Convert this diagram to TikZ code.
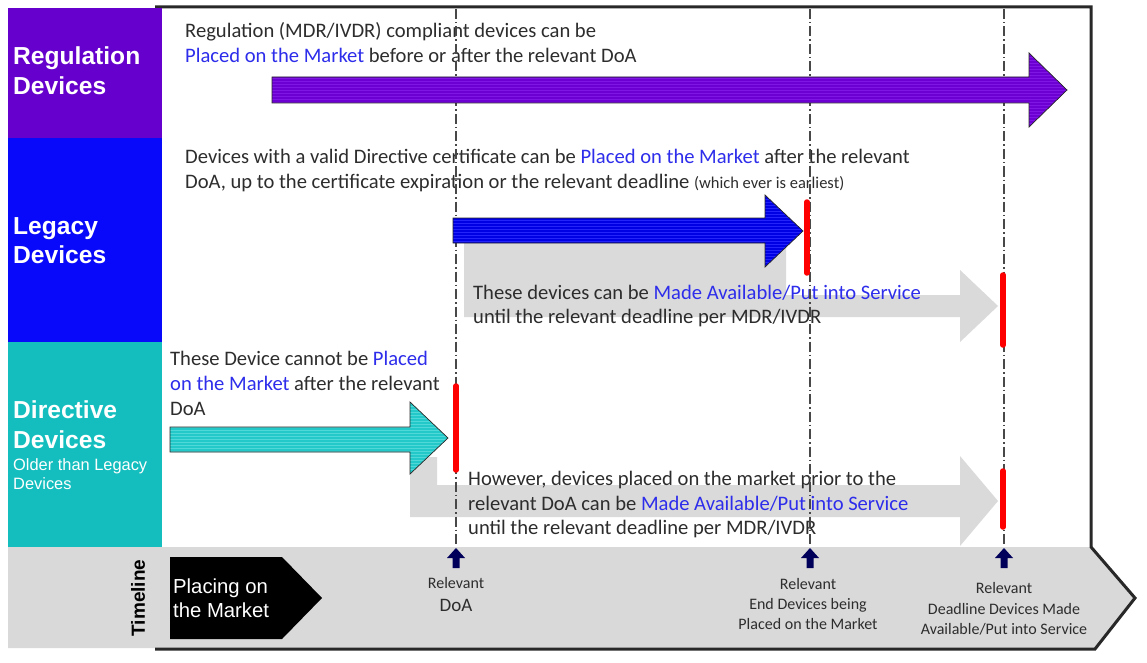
\documentclass[tikz,border=0pt]{standalone}
\usepackage{fontspec}
\setmainfont{Carlito}
\newfontfamily\arialf{Liberation Sans}
\definecolor{cpurple}{RGB}{102,0,204}
\definecolor{cblue}{RGB}{8,8,250}
\definecolor{cteal}{RGB}{20,190,190}
\definecolor{tgrey}{RGB}{217,217,217}
\definecolor{agrey}{RGB}{218,218,218}
\definecolor{tdark}{RGB}{45,45,45}
\definecolor{tblue}{RGB}{45,45,235}
\definecolor{apurple}{RGB}{108,0,210}
\definecolor{spurple}{RGB}{128,22,228}
\definecolor{ablue}{RGB}{0,0,228}
\definecolor{sblue}{RGB}{35,35,250}
\definecolor{ateal}{RGB}{35,200,200}
\definecolor{steal}{RGB}{80,215,215}
\definecolor{navy}{RGB}{0,0,90}
\definecolor{framec}{RGB}{40,40,40}
\tikzset{
  stripes/.style={path picture={
    \foreach \k in {1,4,...,82} {
      \draw[#1, line width=0.9pt] ([yshift=-\k pt]path picture bounding box.north west) -- ([yshift=-\k pt]path picture bounding box.north east);
    }}},
  blockarrow/.style={draw=framec, line width=0.7pt, line join=miter},
  sidebox/.style={anchor=north west, inner sep=0, minimum width=154pt},
  mt/.style={anchor=base west, inner sep=0, text=tdark, font=\fontsize{20.6}{25}\selectfont},
  lab/.style={anchor=base west, inner sep=0, text=white, font=\arialf\bfseries\fontsize{24.6}{30}\selectfont},
  slab/.style={anchor=base west, inner sep=0, text=white, font=\arialf\fontsize{16.4}{20}\selectfont},
  tl/.style={anchor=base, inner sep=0, text=tdark, font=\fontsize{16}{20}\selectfont},
  dashdot/.style={draw=framec!85, line width=1.1pt, dash pattern=on 10pt off 3pt on 1.5pt off 3pt},
  redbar/.style={draw=red, line width=5.5pt, line cap=round},
  uparrow/.style={fill=navy},
}
\begin{document}
\begin{tikzpicture}[x=1pt,y=-1pt]
\useasboundingbox (0,0) rectangle (1147,663);
\fill[white] (0,0) rectangle (1147,663);

% timeline band and frame
\fill[tgrey] (8,547) -- (1091,547) -- (1135,598) -- (1095,648) -- (8,648) -- cycle;
\draw[framec, line width=3pt, line join=miter] (155,7) -- (1091,7) -- (1091,547) -- (1135,598) -- (1095,649) -- (155,649);

% side boxes
\node[sidebox, fill=cpurple, minimum height=130pt] (reg) at (8,8) {};
\node[sidebox, fill=cblue, minimum height=204pt] (leg) at (8,138) {};
\node[sidebox, fill=cteal, minimum height=205pt] (dir) at (8,342) {};

\node[lab] (regl1) at (13,65) {Regulation};
\node[lab] (regl2) at (13,95) {Devices};
\node[lab] (legl1) at (13,234) {Legacy};
\node[lab] (legl2) at (13,263) {Devices};
\node[lab] (dirl1) at (13,418) {Directive};
\node[lab] (dirl2) at (13,448) {Devices};
\node[slab] (dirl3) at (13,470) {Older than Legacy};
\node[slab] (dirl4) at (13,489) {Devices};

% grey arrows
\fill[agrey] (464,243) -- (786,243) -- (786,295) -- (960,295) -- (960,270) -- (998,306) -- (960,342) -- (960,317) -- (464,317) -- cycle;
\fill[agrey] (410,457) -- (437,457) -- (437,485) -- (960,485) -- (960,456) -- (998,501) -- (960,546) -- (960,517) -- (410,517) -- cycle;

% texts
\node[mt] (t1a) at (185,38) {Regulation (MDR/IVDR) compliant devices can be};
\node[mt] (t1b) at (185,63) {\textcolor{tblue}{Placed on the Market} before or after the relevant DoA};
\node[mt] (t2a) at (185,164) {Devices with a valid Directive certificate can be \textcolor{tblue}{Placed on the Market} after the relevant};
\node[mt] (t2b) at (185,189) {DoA, up to the certificate expiration or the relevant deadline {\fontsize{16.5}{18}\selectfont (which ever is earliest)}};
\node[mt] (t3a) at (473,299) {These devices can be \textcolor{tblue}{Made Available/Put into Service}};
\node[mt] (t3b) at (473,323) {until the relevant deadline per MDR/IVDR};
\node[mt] (t4a) at (170,365) {These Device cannot be \textcolor{tblue}{Placed}};
\node[mt] (t4b) at (170,390) {\textcolor{tblue}{on the Market} after the relevant};
\node[mt] (t4c) at (170,415) {DoA};
\node[mt] (t5a) at (468,485) {However, devices placed on the market prior to the};
\node[mt] (t5b) at (468,510) {relevant DoA can be \textcolor{tblue}{Made Available/Put into Service}};
\node[mt] (t5c) at (468,534) {until the relevant deadline per MDR/IVDR};

% dash-dot date lines
\coordinate (d1t) at (456,9); \coordinate (d1b) at (456,547);
\coordinate (d2t) at (810,9); \coordinate (d2b) at (810,547);
\coordinate (d3t) at (1004,9); \coordinate (d3b) at (1004,547);
\draw[dashdot] (d1t) -- (d1b);
\draw[dashdot] (d2t) -- (d2b);
\draw[dashdot] (d3t) -- (d3b);

% coloured block arrows
\path[blockarrow, fill=apurple, stripes=spurple] (272,77) -- (1029,77) -- (1029,53) -- (1067,90) -- (1029,127) -- (1029,103) -- (272,103) -- cycle;
\path[blockarrow, fill=ablue, stripes=sblue] (453,218) -- (765,218) -- (765,195) -- (803,231) -- (765,267) -- (765,243) -- (453,243) -- cycle;
\path[blockarrow, fill=ateal, stripes=steal] (170,427) -- (410,427) -- (410,402) -- (448,438) -- (410,474) -- (410,452) -- (170,452) -- cycle;

% red deadline bars
\coordinate (r1t) at (807,202); \coordinate (r1b) at (807,273);
\coordinate (r2t) at (1003,275); \coordinate (r2b) at (1003,345);
\coordinate (r3t) at (456,386); \coordinate (r3b) at (456,470);
\coordinate (r4t) at (1003,471); \coordinate (r4b) at (1003,527);
\draw[redbar] (r1t) -- (r1b);
\draw[redbar] (r2t) -- (r2b);
\draw[redbar] (r3t) -- (r3b);
\draw[redbar] (r4t) -- (r4b);

% timeline
\node[anchor=center, inner sep=0, rotate=90, font=\arialf\bfseries\fontsize{19}{22}\selectfont, text=black] (tline) at (138,598) {Timeline};
\path[fill=black] (170,557) -- (282,557) -- (322,598) -- (282,639) -- (170,639) -- cycle;
\node[anchor=base west, inner sep=0, text=white, font=\arialf\fontsize{20.3}{24}\selectfont] (pom1) at (173,593) {Placing on};
\node[anchor=base west, inner sep=0, text=white, font=\arialf\fontsize{20.3}{24}\selectfont] (pom2) at (173,617) {the Market};

\foreach \ax in {456,810,1004} {
  \path[uparrow] (\ax,548) -- (\ax+9,558) -- (\ax+3.5,558) -- (\ax+3.5,568) -- (\ax-3.5,568) -- (\ax-3.5,558) -- (\ax-9,558) -- cycle;
}

\node[tl] (a1) at (456,588) {Relevant};
\node[tl, font=\fontsize{19}{22}\selectfont] (a2) at (456,611) {DoA};
\node[tl] (b1) at (808,589) {Relevant};
\node[tl] (b2) at (808,609) {End Devices being};
\node[tl] (b3) at (808,629) {Placed on the Market};
\node[tl] (c1) at (1004,593) {Relevant};
\node[tl] (c2) at (1004,614) {Deadline Devices Made};
\node[tl] (c3) at (1004,634) {Available/Put into Service};
\end{tikzpicture}
\end{document}
